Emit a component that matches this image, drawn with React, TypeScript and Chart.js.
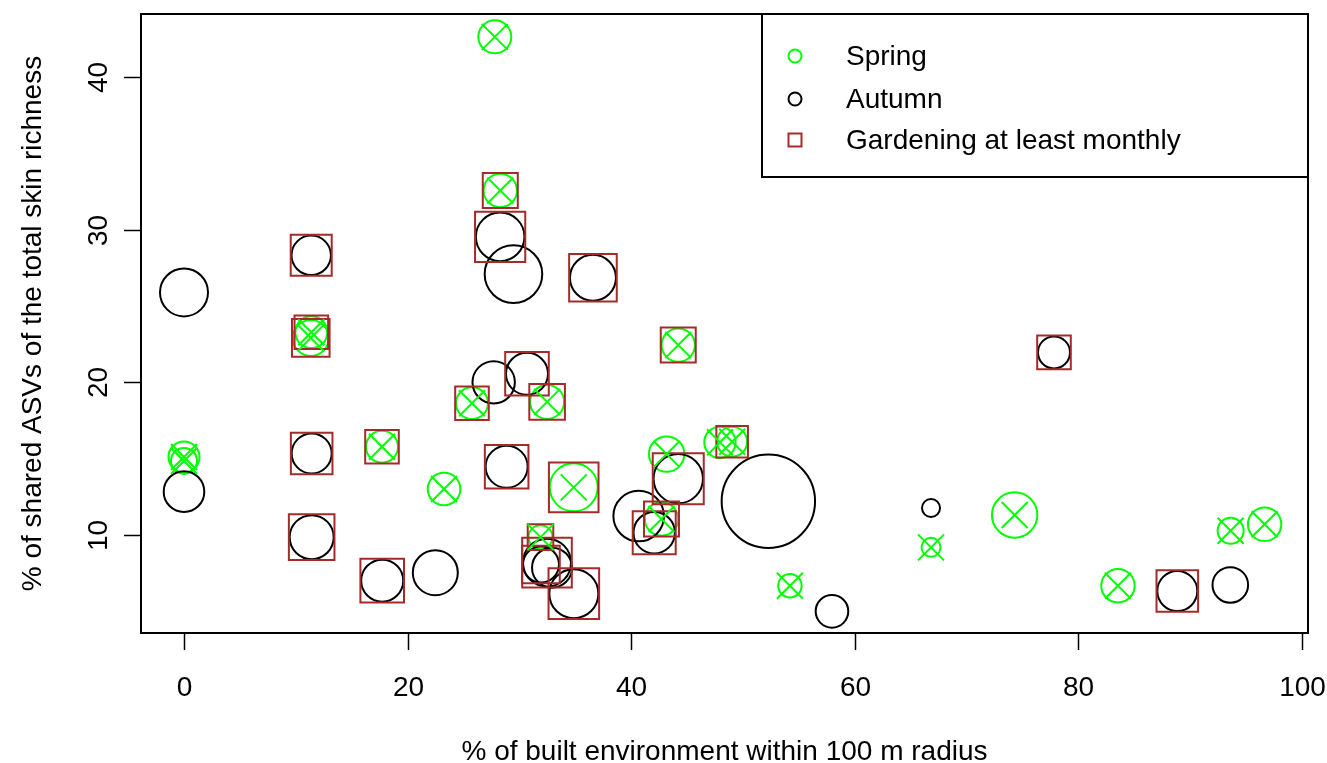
import React, { useEffect, useRef } from "react";
import { Chart, registerables } from "chart.js";

Chart.register(...registerables);

// ---- data ----
const springX = [27.8, 28.29, 11.39, 11.34, 25.76, 32.48, 17.71, 23.26, 34.86, 0, 0, 31.89, 44.21, 43.17, 47.94, 49.03, 42.71, 66.82, 54.2, 74.3, 93.62, 96.66, 83.54];
const springY = [42.63, 32.57, 23.28, 22.91, 18.63, 18.72, 15.78, 13.01, 13.12, 15.11, 14.85, 9.86, 22.44, 15.3, 16.07, 16.11, 11.05, 9.19, 6.68, 11.31, 10.28, 10.7, 6.68];
const springSize = [16.5, 16.7, 16, 18, 16, 17, 16, 16.3, 24, 15.5, 13, 12, 16.7, 17.7, 15.7, 15, 16.7, 9.5, 11.7, 22.7, 13, 16.7, 16.7];
const springGarden = [0, 1, 1, 1, 1, 1, 1, 0, 1, 0, 0, 1, 1, 0, 0, 1, 1, 0, 0, 0, 0, 0, 0];

const autumnX = [28.28, 29.47, 11.38, 0, 36.58, 27.7, 30.68, 11.42, 28.86, 0, 11.42, 17.73, 22.48, 31.93, 32.47, 32.92, 34.87, 44.21, 40.67, 42.06, 52.27, 66.82, 57.96, 77.82, 88.85, 93.59];
const autumnY = [29.53, 27.09, 28.32, 25.89, 26.85, 20.0, 20.56, 15.34, 14.47, 12.84, 9.86, 7.01, 7.53, 8.07, 8.19, 7.86, 6.16, 13.69, 11.24, 10.15, 12.21, 11.77, 5.0, 21.96, 6.33, 6.73];
const autumnSize = [24.3, 28.8, 19.7, 24, 23, 21.2, 21, 20, 21, 20.3, 22, 21, 22.5, 18, 24, 20, 24.5, 24.7, 25.3, 20.7, 46.7, 9, 16.3, 16, 20, 17.8];
const autumnGarden = [1, 0, 1, 0, 1, 0, 1, 1, 1, 0, 1, 1, 0, 1, 1, 0, 1, 1, 0, 1, 0, 0, 0, 1, 1, 0];

const xTicks = [0, 20, 40, 60, 80, 100];
const yTicks = [10, 20, 30, 40];
const xTitle = "% of built environment within 100 m radius";
const yTitle = "% of shared ASVs of the total skin richness";
const legendLabels = ["Spring", "Autumn", "Gardening at least monthly"];

// ---- styles ----
const GREEN = "#00FF00";
const BLACK = "#000000";
const BROWN = "#A52A2A";
const FONT = '28px "Liberation Sans", Arial, Helvetica, sans-serif';
const X_MIN = -3.846;
const X_MAX = 100.54;
const Y_MIN = 3.581;
const Y_MAX = 44.127;
const TICK = 17;

const springPts = springX.map((x, i) => ({ x, y: springY[i] }));
const autumnPts = autumnX.map((x, i) => ({ x, y: autumnY[i] }));
const gardenPts: { x: number; y: number }[] = [];
const gardenSize: number[] = [];
springX.forEach((x, i) => {
  if (springGarden[i]) {
    gardenPts.push({ x, y: springY[i] });
    gardenSize.push(springSize[i]);
  }
});
autumnX.forEach((x, i) => {
  if (autumnGarden[i]) {
    gardenPts.push({ x, y: autumnY[i] });
    gardenSize.push(autumnSize[i]);
  }
});

const rAxes = {
  id: "rAxes",
  afterDraw(chart: any) {
    const { ctx, chartArea: a, scales } = chart;
    const xs = scales.x;
    const ys = scales.y;
    ctx.save();
    ctx.strokeStyle = BLACK;
    ctx.fillStyle = BLACK;
    ctx.lineWidth = 2;
    ctx.strokeRect(a.left, a.top, a.right - a.left, a.bottom - a.top);
    ctx.font = FONT;

    // x axis
    ctx.lineWidth = 1.5;
    ctx.textAlign = "center";
    ctx.textBaseline = "alphabetic";
    xTicks.forEach((v) => {
      const px = Math.round(xs.getPixelForValue(v)) + 0.5;
      ctx.beginPath();
      ctx.moveTo(px, a.bottom);
      ctx.lineTo(px, a.bottom + TICK);
      ctx.stroke();
      ctx.fillText(String(v), px, a.bottom + 63);
    });
    ctx.fillText(xTitle, (a.left + a.right) / 2, a.bottom + 127);

    // y axis
    yTicks.forEach((v) => {
      const py = Math.round(ys.getPixelForValue(v)) + 0.5;
      ctx.beginPath();
      ctx.moveTo(a.left, py);
      ctx.lineTo(a.left - TICK, py);
      ctx.stroke();
      ctx.save();
      ctx.translate(a.left - 34, py);
      ctx.rotate(-Math.PI / 2);
      ctx.fillText(String(v), 0, 0);
      ctx.restore();
    });
    ctx.save();
    ctx.translate(a.left - 100, (a.top + a.bottom) / 2);
    ctx.rotate(-Math.PI / 2);
    ctx.fillText(yTitle, 0, 0);
    ctx.restore();

    // legend
    const lx = a.right - 546;
    const ly = a.top;
    ctx.lineWidth = 2;
    ctx.strokeRect(lx, ly, a.right - lx, 163);
    const rows = [ly + 42, ly + 85, ly + 126];
    ctx.textAlign = "left";
    ctx.textBaseline = "middle";
    legendLabels.forEach((lab, i) => {
      const cy = rows[i];
      const cx = lx + 33;
      ctx.lineWidth = 2;
      if (i < 2) {
        ctx.strokeStyle = i === 0 ? GREEN : BLACK;
        ctx.beginPath();
        ctx.arc(cx, cy, 6.5, 0, Math.PI * 2);
        ctx.stroke();
      } else {
        ctx.strokeStyle = BROWN;
        ctx.strokeRect(cx - 6.5, cy - 6.5, 13, 13);
      }
      ctx.fillStyle = BLACK;
      ctx.fillText(lab, lx + 84, cy + 1);
    });
    ctx.restore();
  },
};

export default function App() {
  const ref = useRef<HTMLCanvasElement>(null);
  useEffect(() => {
    if (!ref.current) return;
    const chart = new Chart(ref.current, {
      type: "scatter",
      data: {
        datasets: [
          {
            label: "Spring cross",
            data: springPts,
            pointStyle: "crossRot",
            pointRadius: 18.4,
            pointBorderColor: GREEN,
            pointBackgroundColor: "transparent",
            pointBorderWidth: 2,
            order: 1,
          } as any,
          {
            label: "Gardening",
            data: gardenPts,
            pointStyle: "rect",
            pointRadius: gardenSize.map((s) => (s + 0.8) * Math.SQRT2),
            pointBorderColor: BROWN,
            pointBackgroundColor: "transparent",
            pointBorderWidth: 2,
            order: 2,
          },
          {
            label: "Autumn",
            data: autumnPts,
            pointStyle: "circle",
            pointRadius: autumnSize,
            pointBorderColor: BLACK,
            pointBackgroundColor: "transparent",
            pointBorderWidth: 2,
            order: 3,
          },
          {
            label: "Spring",
            data: springPts,
            pointStyle: "circle",
            pointRadius: springSize,
            pointBorderColor: GREEN,
            pointBackgroundColor: "transparent",
            pointBorderWidth: 2,
            order: 4,
          },
        ],
      },
      options: {
        animation: false,
        responsive: false,
        events: [],
        clip: false as any,
        layout: { autoPadding: false, padding: { left: 141, right: 19, top: 14, bottom: 130 } },
        scales: {
          x: { type: "linear", min: X_MIN, max: X_MAX, display: false },
          y: { type: "linear", min: Y_MIN, max: Y_MAX, display: false },
        },
        plugins: { legend: { display: false }, tooltip: { enabled: false } },
      },
      plugins: [rAxes],
    });
    return () => chart.destroy();
  }, []);
  return (
    <div style={{ position: "absolute", left: 0, top: 0, width: 1327, height: 763, background: "#fff" }}>
      <canvas ref={ref} width={1327} height={763} style={{ display: "block", width: 1327, height: 763 }} />
    </div>
  );
}
